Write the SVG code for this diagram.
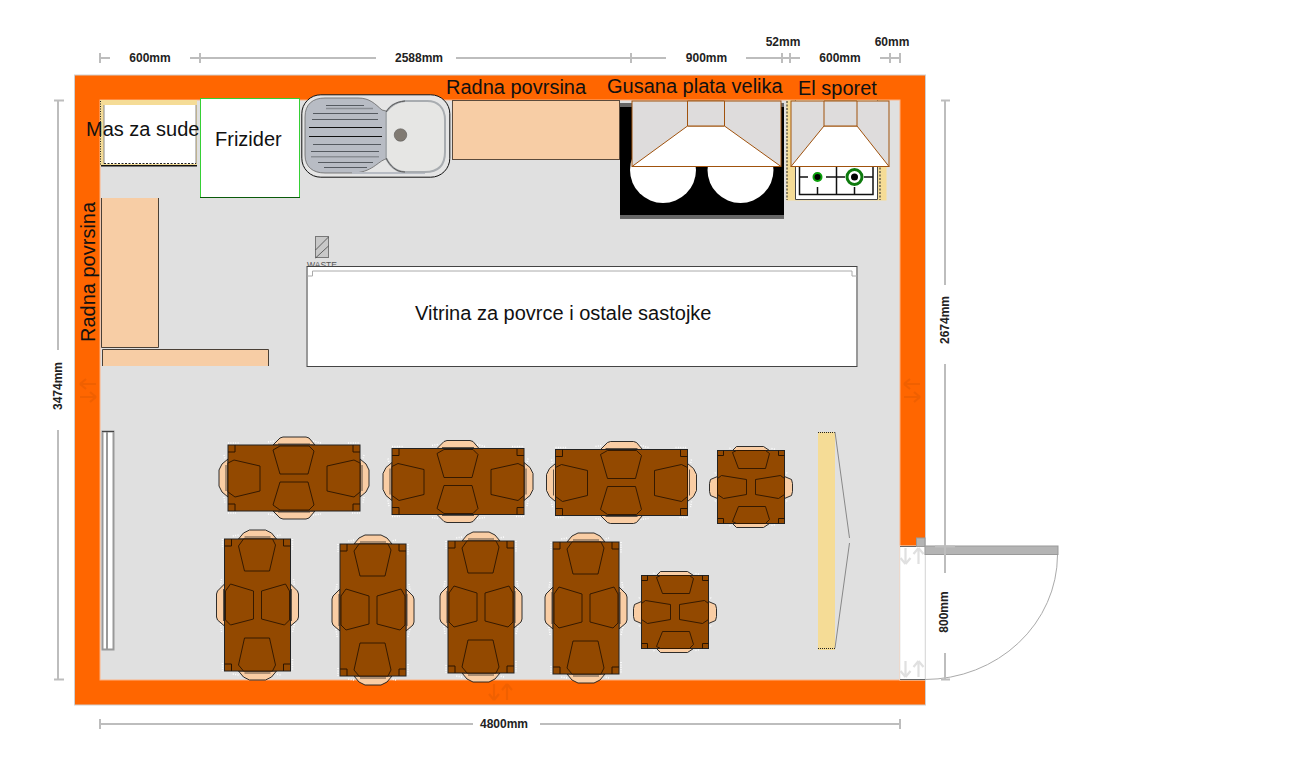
<svg xmlns="http://www.w3.org/2000/svg" width="1300" height="759" viewBox="0 0 1300 759">
<style>
text{font-family:"Liberation Sans",Arial,sans-serif;fill:#111}
.lbl{font-size:20px}
.dim{font-size:12px;font-weight:bold;fill:#222;text-anchor:middle}
.dl{stroke:#bdbdbd;stroke-width:2;fill:none}
.top{fill:#934900;stroke:#222;stroke-width:1}
.seat{fill:#934900;stroke:#2a1400;stroke-width:.9}
.back{fill:#f9cda4;stroke:#1a1a1a;stroke-width:.9}
.bin{fill:none;stroke:#1a1a1a;stroke-width:.7}
.spk{fill:none;stroke:#fff;stroke-width:1.500;stroke-dasharray:1 1.400}
.cor{fill:none;stroke:#2a1400;stroke-width:1}
.ctr{fill:#f7cda5;stroke:#5a4a3c;stroke-width:1}
.hood{fill:#dedcdc;stroke:#a0520d;stroke-width:1}
.hw{fill:#fff;stroke:#a0520d;stroke-width:1}
.rib{stroke:#555a60;stroke-width:1;fill:none}
.arr{fill:none;stroke-width:2.200}
</style>
<defs>
<g id="table-long">
<path class="spk" d="M40 -3L46 -4M85 -4L93 -2M0 -2H12M120 -2H132M-4 10L-3 14M-4 52L-3 58M136 10L135 14M136 52L135 58M40 69L46 70M85 70L93 69M0 68H8M124 68H132"/>
<path class="back" d="M45 0L52 -7L55 -8H78L81 -7L87 0ZM45 66L52 73L55 74H78L81 73L87 66ZM0 14L-6 19L-9 25V41L-6 47L0 52ZM132 14L138 19L141 25V41L138 47L132 52Z"/>
<path class="bin" d="M50 -1H82M50 67H82M-2 20V46M134 20V46"/>
<rect class="top" x="0" y="0" width="132" height="66"/>
<path class="cor" d="M0 7H7V0M125 0V7H132M0 59H7V66M125 66V59H132"/>
<path class="seat" d="M45 5L52 1H81L86 6L80 29H52ZM45 60L52 65H81L86 60L80 37H52ZM0 18L6 15L32 21V46L7 52L0 47ZM132 18L126 15L99 21V46L126 52L132 47Z"/>
</g>
<g id="table-small">
<path class="spk" d="M12 -2L14 -3M54 -2L58 -1M-2 22L-3 24M-2 50L-3 52M69 22L70 24M69 50L70 52M12 75L14 76M54 75L58 74"/>
<path class="back" d="M15 0L19 -4H46L52 0ZM15 73L19 77H46L52 73ZM0 26L-7 29L-8 33V41L-7 45L0 48ZM67 26L74 29L75 33V41L74 45L67 48Z"/>
<rect class="top" x="0" y="0" width="67" height="73"/>
<path class="cor" d="M0 5H6V0M61 0V5H67M0 68H6V73M61 73V68H67"/>
<path class="seat" d="M15 2L19 0H48L52 3L48 18H21ZM15 71L21 56H48L52 69L48 73H19ZM0 28L4 25L29 29V44L6 48L0 44ZM67 28L63 25L38 29V44L61 48L67 44Z"/>
</g>
<path id="ud" d="M-6 -8L-6 8M-6 8L-11 2M-6 8L-1 2M7 8L7 -8M7 -8L2 -2M7 -8L12 -2"/>
</defs>

<rect width="1300" height="759" fill="#fff"/>

<g id="walls">
<rect x="74.500" y="75" width="851" height="630" fill="#ff6600" stroke="#cfcfcf" stroke-width="1"/>
<rect x="100" y="100" width="800" height="580" fill="#e0e0e0" stroke="#ffb080" stroke-width="1"/>
<use href="#ud" transform="translate(88 390) rotate(90)" class="arr" stroke="#f06000"/>
<use href="#ud" transform="translate(912 390) rotate(90)" class="arr" stroke="#f06000"/>
<use href="#ud" x="500" y="692" class="arr" stroke="#f06000"/>
</g>

<g id="door">
<rect x="900" y="546" width="25" height="134" fill="#fff" stroke="#eaeaea" stroke-width="1"/>
<path d="M900 546.500H916M900 679.500H925" stroke="#666" stroke-width="1"/>
<use href="#ud" x="911.500" y="556" class="arr" stroke="#e0e0e0"/>
<use href="#ud" x="911.500" y="669" class="arr" stroke="#e0e0e0"/>
<rect x="916.500" y="538" width="8.500" height="8.500" fill="#b4b4b4" stroke="#999"/>
<rect x="925" y="546" width="133" height="8.500" fill="#b4b4b4" stroke="#999"/>
<path d="M925 679.500A133 125 0 0 0 1057.500 555" fill="none" stroke="#aaa" stroke-width="1"/>
</g>

<g id="mas-za-sude">
<rect x="100" y="100" width="97" height="66" fill="#f5dc96"/>
<rect x="104" y="105" width="92" height="59" fill="#fff"/>
<path d="M104 105V164M196 105V164" stroke="#888" stroke-width="1"/>
<path d="M100.500 101V165" stroke="#222" stroke-width="1" stroke-dasharray="1 1.500"/>
<path d="M104 163.500H196" stroke="#222" stroke-width="1" stroke-dasharray="2 1.500"/>
<path d="M101 165.800H197" stroke="#111" stroke-width="1.500"/>
<text class="lbl" x="86" y="136">Mas za sude</text>
</g>

<g id="frizider">
<rect x="200.500" y="98.500" width="99" height="99" fill="#fff" stroke="#35d035" stroke-width="1"/>
<path d="M200 197.500H300" stroke="#0a5a0a" stroke-width="1"/>
<text class="lbl" x="215" y="146">Frizider</text>
</g>

<g id="sudopera">
<rect x="301.800" y="94.800" width="148" height="82.400" rx="19" fill="#e5e5e5" stroke="#111" stroke-width="1"/>
<path d="M305 117C305 104 313 98 325 98H358C370 98 375 104 382 110L386 111V159C378 161 372 173 352 173H325C313 173 305 167 305 155Z" fill="#b8bcc4" stroke="#666" stroke-width=".8"/>
<path d="M352 173H425" stroke="#b8bcc4" stroke-width="2"/>
<path d="M386 112C390 106 395 102 405 101H425C438 100 445 108 445 120V152C445 165 438 172 425 172H405C396 172 390 166 386 158Z" fill="#e6e6e4" stroke="#a8acb0" stroke-width="2"/>
<path d="M386 112C390 106 395 102 405 101M386 158C390 166 396 172 405 172" fill="none" stroke="#555" stroke-width="1"/>
<path class="rib" d="M326 105.500H364M313 113.500H378M312 119.500H378M313 144.500H381M311 151.500H379M318 162.500H373M324 167.500H367"/>
<path d="M326 108.500H373M311 156.800H379" stroke="#8a8e94" stroke-width="1.500"/>
<path d="M309 127.500H382M309 136.500H382" stroke="#111" stroke-width="1"/>
<circle cx="400.500" cy="135" r="6.300" fill="#807a72" stroke="#555" stroke-width=".5"/>
</g>

<g id="radna-povrsina-gornja">
<rect class="ctr" x="452.500" y="100.500" width="167" height="59"/>
<text class="lbl" x="446" y="94">Radna povrsina</text>
</g>

<g id="radna-povrsina-leva">
<path d="M101.500 198H158.500V347.500H101.500Z" fill="#f7cda5"/>
<path d="M158.500 198V347.500H101.500V198" fill="none" stroke="#4a4036" stroke-width="1"/>
<path d="M102.500 366V349.500H268.500V366" fill="#f7cda5" stroke="#4a4036" stroke-width="1"/>
<text class="lbl" transform="translate(94.500 342) rotate(-90)">Radna povrsina</text>
</g>

<g id="gusana-plata">
<rect x="620" y="103" width="164" height="115.500" fill="#000"/>
<rect x="620" y="103" width="164" height="4" fill="#666"/>
<rect x="620" y="215" width="164" height="3.500" fill="#666"/>
<circle cx="663" cy="170" r="33" fill="#fff"/>
<circle cx="740.500" cy="170" r="33" fill="#fff"/>
<rect class="hood" x="632" y="101" width="149" height="65.500"/>
<path class="hw" d="M687.500 126H724.500L781 166.500H632Z"/>
<path class="hood" d="M687.500 101H724.500V126H687.500Z"/>
<text class="lbl" x="607" y="93">Gusana plata velika</text>
</g>

<g id="el-sporet">
<rect x="786.500" y="100.500" width="100" height="100" fill="#f5dc96"/>
<rect x="795.500" y="100.500" width="82" height="99" fill="#fff"/>
<path d="M795.500 199.500H877.500M795.500 100.500V199.500M877.500 100.500V199.500" fill="none" stroke="#444" stroke-width="1"/>
<path d="M787 101V200M880 101V200" stroke="#222" stroke-width="1" stroke-dasharray="2 1.500"/>
<path d="M799.500 160V194.500H873V160M836.500 160V194.500M854.500 187V194.500M817.500 187V194.500M799.500 177H808M826 177H845M864 177H873" fill="none" stroke="#111" stroke-width="1.500"/>
<circle cx="817.500" cy="177" r="4" fill="#000" stroke="#0aa00a" stroke-width="2"/>
<circle cx="854.500" cy="177" r="7.500" fill="#fff" stroke="#0d7a0d" stroke-width="3"/>
<circle cx="854.500" cy="177" r="3.500" fill="#000"/>
<rect class="hood" x="791" y="101" width="98" height="65.500"/>
<path class="hw" d="M824 126H857L889 166.500H791Z"/>
<path class="hood" d="M824 101H857V126H824Z"/>
<text class="lbl" x="798" y="95">El sporet</text>
</g>

<g id="waste">
<rect x="315.500" y="236.500" width="13" height="21" fill="#c8c8c8" stroke="#777" stroke-width="1"/>
<path d="M315.500 250L328.500 237M315.500 258L328.500 246" stroke="#333" stroke-width=".7"/>
<text x="307" y="267.500" font-size="8.500" style="fill:#555">WASTE</text>
</g>

<g id="vitrina">
<rect x="307" y="266.500" width="550" height="100" fill="#fff" stroke="#444" stroke-width="1"/>
<path d="M307 267V366M857 267V366" stroke="#999" stroke-width="1.800"/>
<path d="M307.500 276H312.500V271H852V276H857" fill="none" stroke="#aaa" stroke-width="1"/>
<text class="lbl" x="415" y="320">Vitrina za povrce i ostale sastojke</text>
</g>

<g id="polica">
<rect x="102.500" y="431.500" width="11" height="218" fill="#fff" stroke="#999" stroke-width="2"/>
<path d="M107 432V649" stroke="#999" stroke-width="2"/>
<path d="M102 431.500H114" stroke="#444" stroke-width="1"/>
</g>

<g id="sto-1"><use href="#table-long" x="228" y="445"/></g>
<g id="sto-2"><use href="#table-long" x="392" y="448.500"/></g>
<g id="sto-3"><use href="#table-long" x="555.500" y="449.500"/></g>
<g id="sto-4"><use href="#table-small" x="717.500" y="450.500"/></g>
<g id="sto-5"><use href="#table-long" transform="translate(290.500 539) rotate(90)"/></g>
<g id="sto-6"><use href="#table-long" transform="translate(406 544) rotate(90)"/></g>
<g id="sto-7"><use href="#table-long" transform="translate(514 541) rotate(90)"/></g>
<g id="sto-8"><use href="#table-long" transform="translate(619 542) rotate(90)"/></g>
<g id="sto-9"><use href="#table-small" x="641.500" y="575.500"/></g>

<g id="pult">
<rect x="818" y="432" width="17" height="218" fill="#f5dc96"/>
<path d="M818 432.500H835M818 648.500H835" stroke="#222" stroke-width="1" stroke-dasharray="1 1"/>
<path d="M835 432L849.500 538M849.500 543L835 648" fill="none" stroke="#888" stroke-width="1"/>
</g>

<g id="connectors">
<path class="dl" d="M100 58H110M100 53V63M190 58H376M200 53V63M456 58H666M631 53V63M746 58H800M782 53V63M790 53V63M880 58H900M890 53V63M900 53V63"/>
<path class="dl" d="M54 100.500H64M58 100.500V350M58 430V679.500M54 679.500H64"/>
<path class="dl" d="M945 100.500V285M941 100.500H950M945 364V573M935 546.500H955M945 653V679M941 679.500H950"/>
<path class="dl" d="M100 724H473M100 719V729M540 724H900M900 719V729"/>
<text class="dim" x="150" y="62">600mm</text>
<text class="dim" x="419" y="62">2588mm</text>
<text class="dim" x="706.500" y="62">900mm</text>
<text class="dim" x="783" y="46">52mm</text>
<text class="dim" x="840" y="62">600mm</text>
<text class="dim" x="892" y="46">60mm</text>
<text class="dim" transform="translate(61.500 386) rotate(-90)">3474mm</text>
<text class="dim" transform="translate(948.500 320) rotate(-90)">2674mm</text>
<text class="dim" transform="translate(948 612) rotate(-90)">800mm</text>
<text class="dim" x="504" y="728">4800mm</text>
</g>
</svg>
